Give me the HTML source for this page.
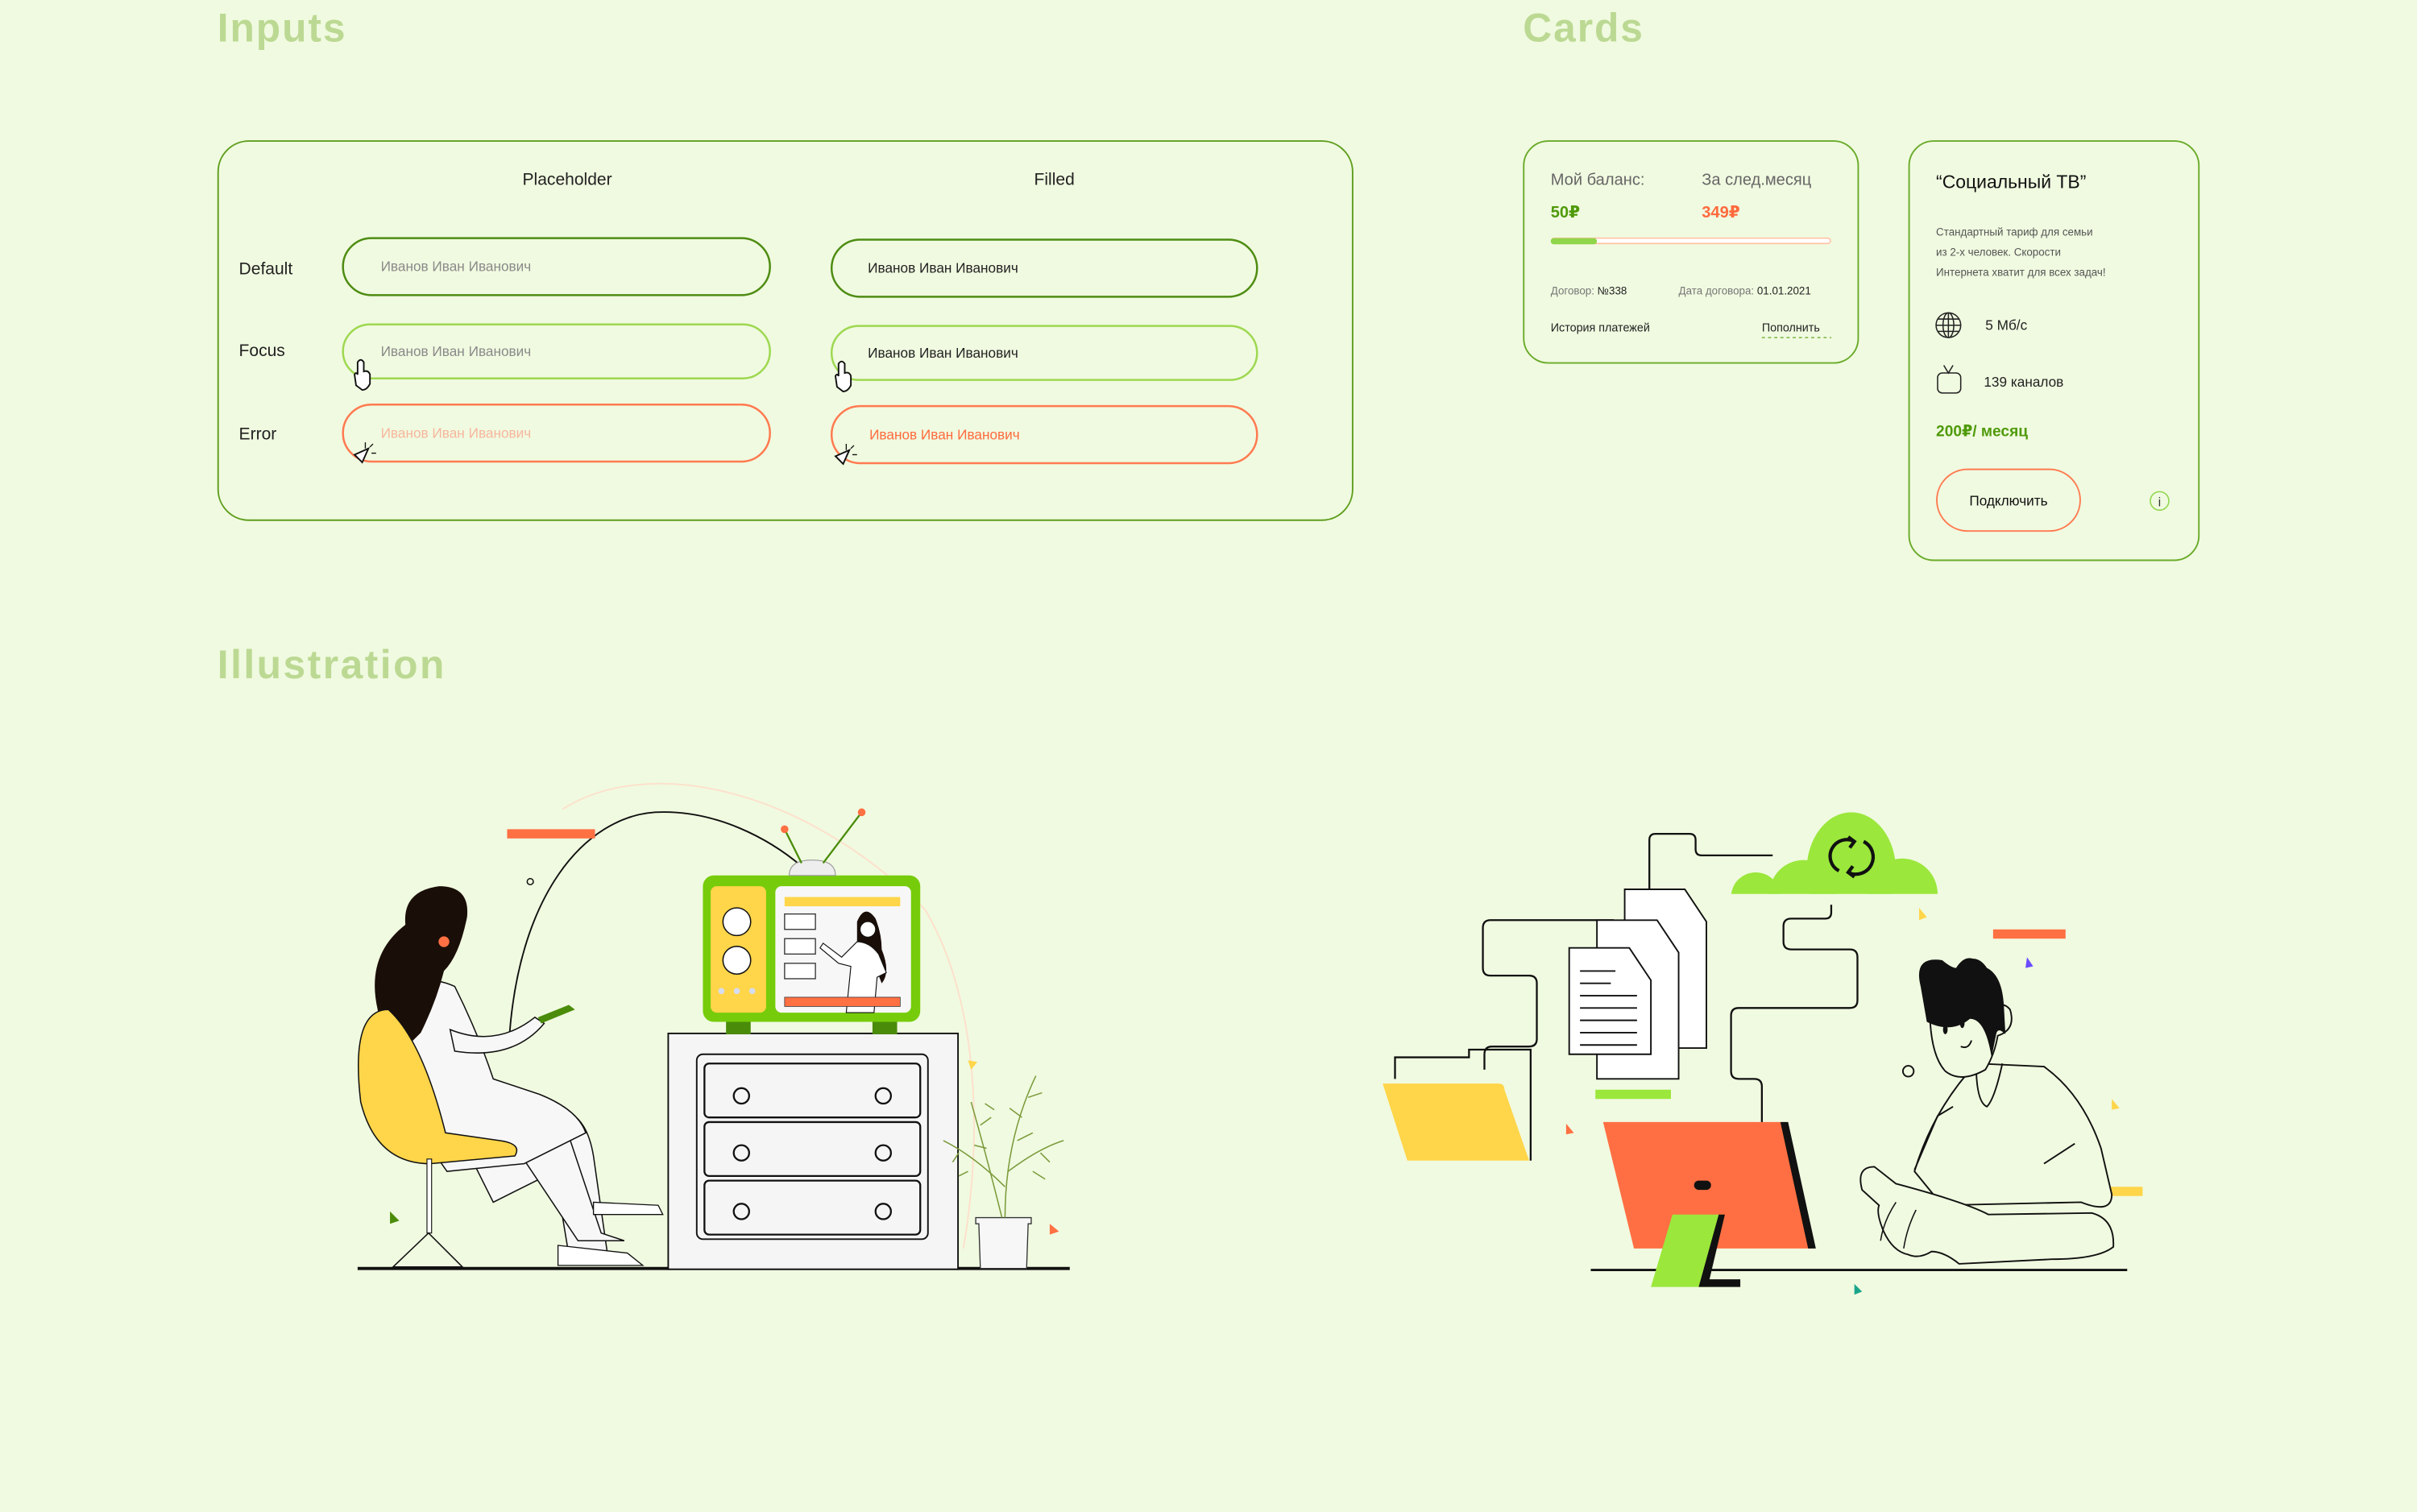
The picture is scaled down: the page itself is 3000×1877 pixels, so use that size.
<!DOCTYPE html>
<html><head><meta charset="utf-8"><style>
html,body{margin:0;padding:0;background:#f0fae0;}
svg{display:block;}
text{font-family:"Liberation Sans","DejaVu Sans",sans-serif;}
</style></head><body>
<svg width="3000" height="1877" viewBox="0 0 1568 981" preserveAspectRatio="none" xmlns="http://www.w3.org/2000/svg">
<defs><clipPath id="cc"><rect x="1100" y="500" width="200" height="80"/></clipPath></defs>
<rect width="1568" height="981" fill="#f0fae0"/>
<!-- Titles -->
<text x="141" y="27" font-size="26" font-weight="bold" fill="#bcd993" letter-spacing="1">Inputs</text>
<text x="988" y="27" font-size="26" font-weight="bold" fill="#bcd993" letter-spacing="1">Cards</text>
<text x="141" y="440" font-size="26" font-weight="bold" fill="#bcd993" letter-spacing="1.3">Illustration</text>

<!-- Inputs box -->
<rect x="141.5" y="91.5" width="736" height="246" rx="20" fill="none" stroke="#5f9e1e" stroke-width="1"/>
<text x="368" y="120" font-size="11" fill="#222" text-anchor="middle">Placeholder</text>
<text x="684" y="120" font-size="11" fill="#222" text-anchor="middle">Filled</text>
<text x="155" y="178" font-size="11" fill="#222">Default</text>
<text x="155" y="231" font-size="11" fill="#222">Focus</text>
<text x="155" y="285" font-size="11" fill="#222">Error</text>
<rect x="222.5" y="154.5" width="277" height="37" rx="18.5" fill="none" stroke="#4e8c12" stroke-width="1.3"/>
<rect x="539.5" y="155.5" width="276" height="37" rx="18.5" fill="none" stroke="#4e8c12" stroke-width="1.3"/>
<rect x="222.5" y="210.5" width="277" height="35" rx="17.5" fill="none" stroke="#9ed850" stroke-width="1.3"/>
<rect x="539.5" y="211.5" width="276" height="35" rx="17.5" fill="none" stroke="#9ed850" stroke-width="1.3"/>
<rect x="222.5" y="262.5" width="277" height="37" rx="18.5" fill="none" stroke="#ff7a50" stroke-width="1.3"/>
<rect x="539.5" y="263.5" width="276" height="37" rx="18.5" fill="none" stroke="#ff7a50" stroke-width="1.3"/>
<text x="247" y="176" font-size="9" fill="#8a8a8a">Иванов Иван Иванович</text>
<text x="563" y="177" font-size="9" fill="#222">Иванов Иван Иванович</text>
<text x="247" y="231" font-size="9" fill="#8a8a8a">Иванов Иван Иванович</text>
<text x="563" y="232" font-size="9" fill="#222">Иванов Иван Иванович</text>
<text x="247" y="284" font-size="9" fill="#f6b69d">Иванов Иван Иванович</text>
<text x="564" y="285" font-size="9" fill="#ff6a3d">Иванов Иван Иванович</text>
<!-- cursors -->
<g fill="#fff" stroke="#111" stroke-width="1">
<path d="M231 250 l-1-7 q1-2 2 0 l0-8 q2-3 4 0 l0 6 q3-1 4 2 l0 6 q-2 4-5 4 z"/>
<path d="M543 251 l-1-7 q1-2 2 0 l0-8 q2-3 4 0 l0 6 q3-1 4 2 l0 6 q-2 4-5 4 z"/>
<path d="M230 295 l9-4 l-4 9 z"/>
<path d="M542 296 l9-4 l-4 9 z"/>
</g>
<g stroke="#111" stroke-width="0.7"><path d="M237 287 v4 M240 290 l2-2 M241 294 h3"/><path d="M549 288 v4 M552 291 l2-2 M553 295 h3"/></g>

<!-- Card 1 -->
<rect x="988.5" y="91.5" width="217" height="144" rx="16" fill="none" stroke="#6aab2a" stroke-width="1"/>
<text x="1006" y="120" font-size="10.5" fill="#666">Мой баланс:</text>
<text x="1104" y="120" font-size="10.5" fill="#666">За след.месяц</text>
<text x="1006" y="141" font-size="10.5" font-weight="bold" fill="#4f9a0a">50₽</text>
<text x="1104" y="141" font-size="10.5" font-weight="bold" fill="#ff6a3d">349₽</text>
<rect x="1006.5" y="154.5" width="181" height="3.5" rx="1.7" fill="#fff" stroke="#ffc0a0" stroke-width="0.8"/>
<rect x="1006" y="154.5" width="30" height="4" rx="2" fill="#8fd64a"/>
<text x="1006" y="191" font-size="7" fill="#777">Договор: <tspan fill="#222">№338</tspan></text>
<text x="1089" y="191" font-size="7" fill="#777">Дата договора: <tspan fill="#222">01.01.2021</tspan></text>
<text x="1006" y="215" font-size="7.5" fill="#222">История платежей</text>
<text x="1143" y="215" font-size="7.5" fill="#222">Пополнить</text>
<line x1="1143" y1="219" x2="1188" y2="219" stroke="#4f9a0a" stroke-width="0.6" stroke-dasharray="2 2"/>

<!-- Card 2 -->
<rect x="1238.5" y="91.5" width="188" height="272" rx="16" fill="none" stroke="#6aab2a" stroke-width="1"/>
<text x="1256" y="122" font-size="12" fill="#111">“Социальный ТВ”</text>
<text x="1256" y="153" font-size="7" fill="#555">Стандартный тариф для семьи</text>
<text x="1256" y="166" font-size="7" fill="#555">из 2-х человек. Скорости</text>
<text x="1256" y="179" font-size="7" fill="#555">Интернета хватит для всех задач!</text>
<g fill="none" stroke="#222" stroke-width="0.8">
<circle cx="1264" cy="211" r="8"/><ellipse cx="1264" cy="211" rx="3.5" ry="8"/>
<line x1="1256" y1="211" x2="1272" y2="211"/><line x1="1264" y1="203" x2="1264" y2="219"/>
<line x1="1257" y1="207" x2="1271" y2="207"/><line x1="1257" y1="215" x2="1271" y2="215"/>
<rect x="1257" y="242" width="15" height="13" rx="3"/><path d="M1261 237 l3 5 l3-5"/>
</g>
<text x="1288" y="214" font-size="9" fill="#222">5 Мб/с</text>
<text x="1287" y="251" font-size="9" fill="#222">139 каналов</text>
<text x="1256" y="283" font-size="10" font-weight="bold" fill="#4f9a0a">200₽/ месяц</text>
<rect x="1256.5" y="304.5" width="93" height="40" rx="20" fill="none" stroke="#ff7a50" stroke-width="1"/>
<text x="1303" y="328" font-size="9" fill="#111" text-anchor="middle">Подключить</text>
<circle cx="1401" cy="325" r="6" fill="none" stroke="#8fd64a" stroke-width="0.8"/>
<text x="1401" y="328.5" font-size="8" fill="#333" text-anchor="middle">i</text>

<!-- Left illustration -->
<path d="M330 680 C 335 580 380 530 425 527 C 465 525 500 545 520 562" fill="none" stroke="#111" stroke-width="1"/>
<path d="M365 525 C 420 490 520 510 600 590 C 630 640 640 720 625 810" fill="none" stroke="#fde0cc" stroke-width="1"/>
<rect x="329" y="538" width="57" height="6" fill="#ff7043"/>
<circle cx="344" cy="572" r="2" fill="none" stroke="#111" stroke-width="0.8"/>
<line x1="232" y1="823" x2="694" y2="823" stroke="#111" stroke-width="2"/>
<!-- dresser -->
<rect x="433.5" y="670.5" width="188" height="153" fill="#f5f5f5" stroke="#111" stroke-width="1"/>
<rect x="452" y="684" width="150" height="120" rx="4" fill="none" stroke="#111" stroke-width="1"/>
<g fill="#f5f5f5" stroke="#111" stroke-width="1.2">
<rect x="457" y="690" width="140" height="35" rx="3"/>
<rect x="457" y="728" width="140" height="35" rx="3"/>
<rect x="457" y="766" width="140" height="35" rx="3"/>
<circle cx="481" cy="711" r="5"/><circle cx="573" cy="711" r="5"/>
<circle cx="481" cy="748" r="5"/><circle cx="573" cy="748" r="5"/>
<circle cx="481" cy="786" r="5"/><circle cx="573" cy="786" r="5"/>
</g>
<!-- TV -->
<rect x="471" y="662" width="16" height="9" fill="#4a8c0a"/><rect x="566" y="662" width="16" height="9" fill="#4a8c0a"/>
<rect x="456" y="568" width="141" height="95" rx="7" fill="#76cc0a"/>
<rect x="461" y="575" width="36" height="82" rx="4" fill="#ffd54a"/>
<circle cx="478" cy="598" r="9" fill="#fff" stroke="#111" stroke-width="0.8"/>
<circle cx="478" cy="623" r="9" fill="#fff" stroke="#111" stroke-width="0.8"/>
<circle cx="468" cy="643" r="2" fill="#d6dcf0"/><circle cx="478" cy="643" r="2" fill="#d6dcf0"/><circle cx="488" cy="643" r="2" fill="#d6dcf0"/>
<rect x="503" y="575" width="88" height="82" rx="4" fill="#f7f7f7"/>
<rect x="509" y="582" width="75" height="6" fill="#ffd54a"/>
<g fill="#fff" stroke="#333" stroke-width="0.7"><rect x="509" y="593" width="20" height="10"/><rect x="509" y="609" width="20" height="10"/><rect x="509" y="625" width="20" height="10"/></g>
<path d="M556 598 q5-12 12-2 q4 10 4 20 q6 15 0 22 q-4-10-6-18 q-4 0-10-5 z" fill="#1a0e08"/>
<path d="M549 657 l3-30 l-8 -2 l-12-10 l2-3 l12 9 l10-10 q8 0 14 8 l5 12 l-6 3 l-2 23 z" fill="#fff" stroke="#111" stroke-width="0.6"/>
<circle cx="563" cy="603" r="5" fill="#fff" stroke="#111" stroke-width="0.5"/>
<rect x="509" y="647" width="75" height="6" fill="#ff7043" stroke="#333" stroke-width="0.4"/>
<path d="M512 568 q0-10 15-10 q15 0 15 10 z" fill="#eee" stroke="#999" stroke-width="0.6"/>
<line x1="520" y1="560" x2="509" y2="538" stroke="#4a8c0a" stroke-width="1.2"/><line x1="534" y1="560" x2="559" y2="527" stroke="#4a8c0a" stroke-width="1.2"/>
<circle cx="509" cy="538" r="2.5" fill="#ff7043"/><circle cx="559" cy="527" r="2.5" fill="#ff7043"/>
<!-- woman -->
<path d="M300 740 l60-20 q20 0 25 30 l10 70 l-25 0 l-10-60 l-40 20 z" fill="#f7f7f7" stroke="#111" stroke-width="0.8"/>
<path d="M325 730 l45 10 l20 60 l15 5 l-30 0 z" fill="#f7f7f7" stroke="#111" stroke-width="0.8"/>
<path d="M255 710 q-5-90 40-70 q15 30 25 60 l30 10 q25 10 30 25 l-40 20 l-50 5 z" fill="#f7f7f7" stroke="#111" stroke-width="0.8"/>
<path d="M385 780 l42 2 l3 6 l-45 0 z" fill="#fff" stroke="#111" stroke-width="0.7"/>
<path d="M362 808 l45 5 l10 8 l-55 0 z" fill="#fff" stroke="#111" stroke-width="0.7"/>
<path d="M292 668 q30 12 55-8 l6 4 q-20 24-58 18 z" fill="#f7f7f7" stroke="#111" stroke-width="0.8"/>
<path d="M349 660 l20-8 l4 3 l-22 9 z" fill="#4a8c0a"/>
<path d="M245 655 q-8-35 18-55 q-2-22 22-25 q20 0 18 20 q-5 25-15 35 q-5 20-15 40 l-12 12 q-14-8-16-27 z" fill="#1a0e08"/>
<circle cx="288" cy="611" r="3.5" fill="#ff7043"/>
<path d="M252 655 q-25 0-18 60 q10 40 45 40 l55-5 q5-8-10-10 l-35-5 q-15-60-37-80 z" fill="#ffd54a" stroke="#111" stroke-width="0.8"/>
<rect x="277" y="752" width="3" height="48" fill="#fff" stroke="#111" stroke-width="0.6"/>
<path d="M278 800 l-23 22 l45 0 z" fill="none" stroke="#111" stroke-width="0.8"/>
<path d="M253 786 l6 6 l-6 2 z" fill="#4a8c0a"/>
<path d="M628 688 l6 1 l-4 5 z" fill="#ffd54a"/><path d="M681 794 l6 5 l-6 2 z" fill="#ff7043"/>
<!-- plant -->
<path d="M633 790 h36 v4 h-2 l-1 29 h-30 l-1-29 h-2 z" fill="#f7f7f7" stroke="#333" stroke-width="0.7"/>
<g fill="none" stroke="#7a9a3a" stroke-width="0.8">
<path d="M652 790 q0-50 20-92"/><path d="M650 790 q-10-40-20-75"/><path d="M652 770 q-20-20-40-30"/><path d="M654 760 q20-15 36-20"/>
<path d="M660 740 l10-5 M663 725 l-8-6 M667 712 l9-3 M640 745 l-8-2 M636 730 l7-5 M622 748 l-4 6 M675 748 l6 6 M645 720 l-6-4 M670 760 l8 5 M628 760 l-6 3"/>
</g>

<!-- Right illustration -->
<g fill="none" stroke="#111" stroke-width="1.2">
<path d="M1070 585 v-40 q0-4 4-4 h22 q4 0 4 4 v6 q0 4 4 4 h46"/>
<path d="M1047 597 h-80 q-5 0-5 5 v26 q0 5 5 5 h25 q5 0 5 5 v36 q0 5-5 5 h-24 q-5 0-5 5 v10"/>
<path d="M1188 587 v5 q0 4-4 4 h-22 q-5 0-5 5 v10 q0 5 5 5 h38 q5 0 5 5 v28 q0 5-5 5 h-72 q-5 0-5 5 v36 q0 5 5 5 h10 q5 0 5 5 v35"/>
<path d="M905 700 v-14 h48 v-5 h40 v72"/>
</g>
<g fill="#fff" stroke="#111" stroke-width="1">
<path d="M1054 577 h39 l14 21 v82 h-53 z"/>
<path d="M1036 597 h39 l14 21 v82 h-53 z"/>
<path d="M1018 615 h39 l14 21 v48 h-53 z"/>
</g>
<g stroke="#111" stroke-width="1"><line x1="1025" y1="630" x2="1048" y2="630"/><line x1="1025" y1="638" x2="1045" y2="638"/><line x1="1025" y1="646" x2="1062" y2="646"/><line x1="1025" y1="654" x2="1062" y2="654"/><line x1="1025" y1="662" x2="1062" y2="662"/><line x1="1025" y1="670" x2="1062" y2="670"/><line x1="1025" y1="678" x2="1062" y2="678"/></g>
<path d="M897 703 h75 q4 0 4 4 l16 46 h-79 z" fill="#ffd54a"/>
<!-- cloud -->
<g clip-path="url(#cc)" fill="#9be73c">
<ellipse cx="1201" cy="565" rx="29" ry="38"/>
<circle cx="1170" cy="580" r="22"/>
<circle cx="1234" cy="580" r="23"/>
<circle cx="1139" cy="582" r="16"/>
</g>
<g fill="none" stroke="#111" stroke-width="2.2"><path d="M1193 565 a10 10 0 0 1 10-19"/><path d="M1209 546 a10 10 0 0 1-10 20"/><path d="M1199 543 l4 3 l-3 4"/><path d="M1203 569 l-4-3 l3-4"/></g>
<rect x="1035" y="707" width="49" height="6" fill="#9be73c"/>
<rect x="1293" y="603" width="47" height="6" fill="#ff7043"/>
<rect x="1343" y="770" width="47" height="6" fill="#ffd54a"/>
<path d="M1245 589 l5 6 l-5 2 z" fill="#ffd54a"/><path d="M1315 621 l4 6 l-5 1 z" fill="#6a4cff"/><path d="M1016 729 l5 6 l-5 1 z" fill="#ff7043"/><path d="M1370 713 l5 6 l-5 1 z" fill="#ffd54a"/><path d="M1203 833 l5 5 l-5 2 z" fill="#1aa58a"/>
<circle cx="1238" cy="695" r="3.5" fill="none" stroke="#111" stroke-width="1"/>
<!-- man -->
<path d="M1282 690 q-28 30-40 70 l18 22 l90-2 q20 8 20-5 l-7-30 q-12-35-37-53 z" fill="#f0fae0" stroke="#111" stroke-width="1"/>
<path d="M1242 759 l15-35 l10-6 M1326 755 l20-13" fill="none" stroke="#111" stroke-width="1"/>
<path d="M1282 690 q0 25 7 28 q5-5 10-28" fill="none" stroke="#111" stroke-width="1"/>
<path d="M1252 648 q-1 35 10 47 q10 8 26-1 q6-10 8-22 q12-4 8-17 q-5-6-10 0 l-4-12 q-20-10-38 5 z" fill="#f0fae0" stroke="#111" stroke-width="1"/>
<ellipse cx="1262" cy="668" rx="1.5" ry="3" fill="#111"/><ellipse cx="1273" cy="664" rx="1.5" ry="3" fill="#111"/>
<path d="M1272 679 q5 2 7-4" fill="none" stroke="#111" stroke-width="1"/>
<path d="M1246 640 q-5-20 14-17 q6 5 9 5 q5-8 11-6 q5 0 9 6 q10 5 11 25 l1 18 q-5-5-6 0 l-3 15 q-4-25-14-25 q-12 10-28 2 z" fill="#111"/>
<path d="M1208 772 q-4-15 8-15 l14 11 q45 12 60 20 l67-1 q15 4 14 22 q-10 8-40 8 l-60 3 q-10-8-18-8 q-8 5-15 2 q-10-2-16-15 q-5-12-3-17 z" fill="#f0fae0" stroke="#111" stroke-width="1"/>
<path d="M1230 780 q-8 12-10 25 M1243 785 q-6 12-8 25" fill="none" stroke="#111" stroke-width="0.8"/>
<line x1="1032" y1="824" x2="1380" y2="824" stroke="#111" stroke-width="1.5"/>
<path d="M1040 728 h115 l20 82 h-115 z" fill="#ff6f43"/>
<path d="M1155 728 h5 l18 82 h-5 z" fill="#111"/>
<rect x="1099" y="766" width="11" height="6" rx="3" fill="#111"/>
<path d="M1085 788 h33 l-10 47 h-37 z" fill="#9be73c"/>
<path d="M1115 788 h4 l-10 42 h20 v5 h-27 z" fill="#111"/>
</svg>
</body></html>
